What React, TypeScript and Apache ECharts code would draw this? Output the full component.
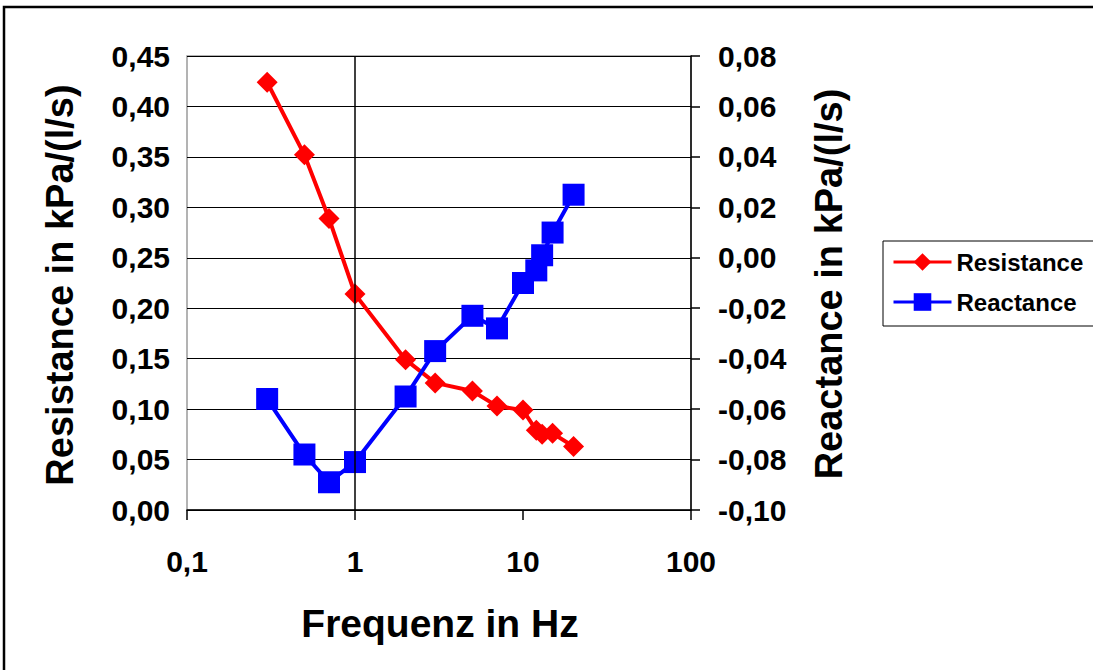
import React, { useEffect, useRef } from "react";
import * as echarts from "echarts";

const frequencies = [0.3, 0.5, 0.7, 1, 2, 3, 5, 7, 10, 12, 13, 15, 20];
const resistance = [0.424, 0.352, 0.289, 0.214, 0.149, 0.126, 0.118, 0.103, 0.099, 0.079, 0.075, 0.076, 0.063];
const reactance = [-0.056, -0.078, -0.089, -0.081, -0.055, -0.037, -0.023, -0.028, -0.010, -0.005, 0.001, 0.010, 0.025];
const seriesNames = ["Resistance", "Reactance"];
const xTitle = "Frequenz in Hz";
const leftTitle = "Resistance in kPa/(l/s)";
const rightTitle = "Reactance in kPa/(l/s)";

const FONT = "'Liberation Sans', Arial, sans-serif";

export default function App() {
  const ref = useRef<HTMLDivElement>(null);
  useEffect(() => {
    if (!ref.current) return;
    const chart = echarts.init(ref.current, undefined, { renderer: "svg" });
    const comma = (v: number, d: number) => v.toFixed(d).replace(".", ",");
    const tickFont = { fontFamily: FONT, fontWeight: "bold" as const, fontSize: 30, color: "#000" };
    chart.setOption({
      animation: false,
      backgroundColor: "#fff",
      grid: {
        left: 187, top: 56, width: 504, height: 454,
        show: true, borderColor: "#9a9a9a", borderWidth: 1.5, backgroundColor: "transparent",
      },
      legend: {
        data: seriesNames,
        orient: "vertical",
        left: 887, top: 245,
        itemWidth: 58, itemHeight: 22, itemGap: 16,
        lineStyle: { width: 3 },
        textStyle: { fontFamily: FONT, fontWeight: "bold", fontSize: 24, color: "#000" },
        selectedMode: false,
      },
      xAxis: {
        type: "log", logBase: 10, min: 0.1, max: 100,
        axisLine: { show: true, lineStyle: { color: "#000", width: 1.5 } },
        axisTick: { show: true, length: 10, lineStyle: { color: "#000", width: 1.5 } },
        minorTick: { show: false },
        splitLine: { show: false },
        axisLabel: {
          ...tickFont, margin: 36,
          formatter: (v: number) => (v < 1 ? comma(v, 1) : String(Math.round(v))),
        },
      },
      yAxis: [
        {
          type: "value", min: 0, max: 0.45, interval: 0.05,
          axisLine: { show: false }, axisTick: { show: false },
          splitLine: { show: true, lineStyle: { color: "#000", width: 1 } },
          axisLabel: { ...tickFont, margin: 17, formatter: (v: number) => comma(v, 2) },
        },
        {
          type: "value", min: -0.1, max: 0.08, interval: 0.02, position: "right",
          axisLine: { show: true, lineStyle: { color: "#000", width: 1.5 } },
          axisTick: { show: true, length: 9, lineStyle: { color: "#000", width: 1.5 } },
          splitLine: { show: false },
          axisLabel: { ...tickFont, margin: 27, formatter: (v: number) => comma(v, 2) },
        },
      ],
      graphic: [
        { type: "rect", shape: { x: 4, y: 7, width: 1300, height: 900 }, style: { fill: "none", stroke: "#000", lineWidth: 2.5 }, silent: true },
        { type: "rect", shape: { x: 883, y: 241, width: 300, height: 85 }, style: { fill: "#fff", stroke: "#000", lineWidth: 1 }, z: -1, silent: true },
        {
          type: "text", x: 60, y: 285, rotation: Math.PI / 2,
          style: { text: leftTitle, fontFamily: FONT, fontWeight: "bold", fontSize: 38, fill: "#000", textAlign: "center", textVerticalAlign: "middle" },
        },
        {
          type: "text", x: 829, y: 284, rotation: Math.PI / 2,
          style: { text: rightTitle, fontFamily: FONT, fontWeight: "bold", fontSize: 38, fill: "#000", textAlign: "center", textVerticalAlign: "middle" },
        },
        {
          type: "text", x: 440, y: 623,
          style: { text: xTitle, fontFamily: FONT, fontWeight: "bold", fontSize: 39, fill: "#000", textAlign: "center", textVerticalAlign: "middle" },
        },
      ],
      series: [
        {
          name: "axisCross", type: "line", data: [], z: 1, silent: true,
          markLine: {
            symbol: "none", silent: true, label: { show: false },
            lineStyle: { color: "#000", width: 1.5, type: "solid" },
            data: [{ xAxis: 1 }],
          },
        },
        {
          name: seriesNames[0], type: "line", yAxisIndex: 0, z: 3,
          data: frequencies.map((f, i) => [f, resistance[i]]),
          symbol: "diamond", symbolSize: 21,
          lineStyle: { color: "#ff0000", width: 4 },
          itemStyle: { color: "#ff0000" },
        },
        {
          name: seriesNames[1], type: "line", yAxisIndex: 1, z: 3,
          data: frequencies.map((f, i) => [f, reactance[i]]),
          symbol: "rect", symbolSize: 22,
          lineStyle: { color: "#0000ff", width: 4 },
          itemStyle: { color: "#0000ff" },
        },
      ],
    });
    return () => chart.dispose();
  }, []);
  return <div ref={ref} style={{ position: "fixed", left: 0, top: 0, width: 1093, height: 670 }} />;
}
